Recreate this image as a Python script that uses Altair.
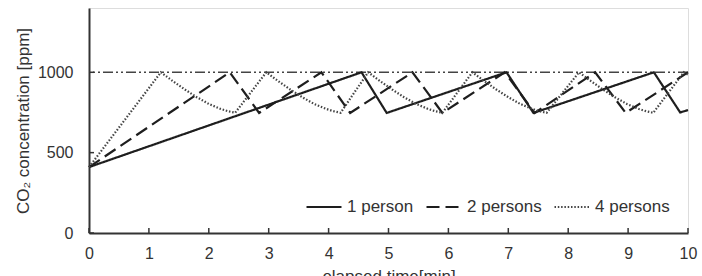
import altair as alt
import pandas as pd

series_names = ["1 person", "2 persons", "4 persons"]

# 1 person (solid)
t_1p = [0, 4.55, 4.97, 6.97, 7.42, 9.43, 9.87, 10]
v_1p = [410, 1000, 747, 1000, 747, 1000, 750, 765]

# 2 persons (dashed)
t_2p = [0, 2.35, 2.84, 3.88, 4.36, 5.40, 5.90, 6.94, 7.44, 8.45, 8.96, 10]
v_2p = [410, 1000, 747, 1000, 747, 1000, 747, 1000, 747, 1000, 747, 1000]

# 4 persons (dotted)
t_4p = [0, 1.20, 1.40, 1.60, 1.80, 2.00, 2.20, 2.32, 2.44,
        2.96, 3.16, 3.36, 3.56, 3.76, 3.96, 4.08, 4.20,
        4.66, 4.86, 5.06, 5.26, 5.46, 5.66, 5.78, 5.90,
        6.40, 6.60, 6.80, 7.00, 7.20, 7.40, 7.52, 7.64,
        8.18, 8.38, 8.58, 8.78, 8.98, 9.18, 9.30, 9.42,
        9.93, 10]
v_4p = [410, 1000, 945, 893, 845, 803, 772, 758, 748,
        1000, 945, 893, 845, 803, 772, 758, 748,
        1000, 945, 893, 845, 803, 772, 758, 748,
        1000, 945, 893, 845, 803, 772, 758, 748,
        1000, 945, 893, 845, 803, 772, 758, 748,
        1000, 985]

x_ticks = [0, 1, 2, 3, 4, 5, 6, 7, 8, 9, 10]
y_ticks = [0, 500, 1000]
limit_ppm = [1000]

rows = []
for name, ts, vs in zip(series_names, [t_1p, t_2p, t_4p], [v_1p, v_2p, v_4p]):
    for i, (t, v) in enumerate(zip(ts, vs)):
        rows.append({"series": name, "t": t, "v": v, "idx": i})
df = pd.DataFrame(rows)

W, H = 599, 225
FONT = "Liberation Sans"
TXT = "#333333"

xscale = alt.Scale(domain=[0, 10], nice=False, zero=False)
yscale = alt.Scale(domain=[0, 1400], nice=False)

leg = alt.Legend(
    title=None, orient="none", legendX=216, legendY=180, direction="horizontal",
    symbolType="stroke", symbolSize=1225, labelFontSize=17, labelFont=FONT,
    labelColor=TXT, labelOffset=4, columnPadding=8, padding=0,
)

lines = alt.Chart(df).mark_line(strokeCap="butt", strokeJoin="miter").encode(
    x=alt.X("t:Q", scale=xscale, axis=alt.Axis(
        values=x_ticks, format="d", title="elapsed time[min]", ticks=False, tickSize=0,
        grid=False, labelFontSize=16, labelColor=TXT, labelFont=FONT,
        labelPadding=12, labelFlush=False, domainColor="#333", domainWidth=2,
        titleFont=FONT, titleFontSize=17, titleFontWeight="normal",
        titleColor=TXT, titlePadding=7)),
    y=alt.Y("v:Q", scale=yscale, axis=alt.Axis(
        values=y_ticks, format="d", title="CO₂ concentration [ppm]", ticks=False, tickSize=0,
        grid=False, labelFontSize=16, labelColor=TXT, labelFont=FONT,
        labelPadding=16, domainColor="#333", domainWidth=2,
        titleFont=FONT, titleFontSize=17, titleFontWeight="normal",
        titleColor=TXT, titlePadding=5)),
    color=alt.Color("series:N", scale=alt.Scale(domain=series_names,
                    range=["#1e1e1e", "#1e1e1e", "#444444"]), legend=leg),
    strokeDash=alt.StrokeDash("series:N", scale=alt.Scale(domain=series_names,
                    range=[[1, 0], [13, 6], [1.5, 1.8]]), legend=leg),
    strokeWidth=alt.StrokeWidth("series:N", scale=alt.Scale(domain=series_names,
                    range=[2.2, 2.2, 1.5]), legend=leg),
    order="idx:Q",
)

ref = alt.Chart(pd.DataFrame({"v": limit_ppm})).mark_rule(
    color="#444444", strokeWidth=1.5, strokeDash=[10, 3, 2, 3, 2, 3]
).encode(y=alt.Y("v:Q", scale=yscale))

xt = alt.Chart(pd.DataFrame({"t": x_ticks})).mark_rule(
    color="#333333", strokeWidth=1.5
).encode(x=alt.X("t:Q", scale=xscale), y=alt.value(H), y2=alt.value(H - 5))

yt = alt.Chart(pd.DataFrame({"v": y_ticks})).mark_rule(
    color="#333333", strokeWidth=1.5
).encode(y=alt.Y("v:Q", scale=yscale), x=alt.value(0), x2=alt.value(5))

chart = alt.layer(ref, lines, xt, yt).properties(
    width=W, height=H,
    autosize=alt.AutoSizeParams(type="none"),
    padding={"left": 89, "top": 8, "right": 14, "bottom": 43},
).configure_view(stroke="#777777", strokeWidth=1.5).configure(font=FONT)

chart.save("out.html", embed_options={"renderer": "svg", "actions": False})
